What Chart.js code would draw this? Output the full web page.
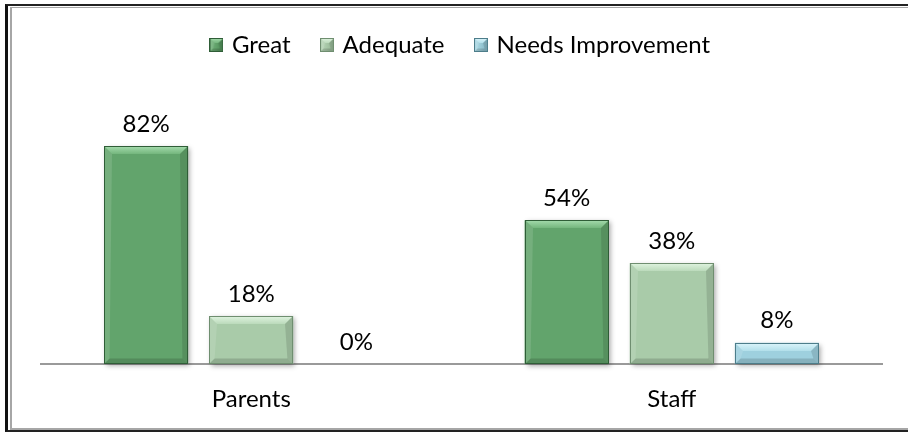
<!DOCTYPE html>
<html>
<head>
<meta charset="utf-8">
<script src="https://cdn.jsdelivr.net/npm/chart.js@4.4.1/dist/chart.umd.min.js"></script>
<style>
  html, body { margin: 0; padding: 0; background: #fff; width: 908px; height: 433px; overflow: hidden; }
  #molduraExterna { position: absolute; left: 5px; top: 4px; width: 940px; height: 424px;
    border-left: 3px solid #111; border-top: 2px solid #222; border-bottom: 2px solid #222; }
  #molduraInterna { position: absolute; left: 10px; top: 7px; width: 940px; height: 420px;
    border-left: 2px solid #a6a6a6; border-top: 1px solid #a6a6a6; border-bottom: 2px solid #a6a6a6; }
  #grafico { position: absolute; left: 0; top: 0; }
</style>
</head>
<body>
<div id="molduraExterna"></div>
<div id="molduraInterna"></div>
<canvas id="grafico" width="908" height="433"></canvas>
<script>
// Dados do gráfico
const categorias = ['Parents', 'Staff'];
const nomesSeries = ['Great', 'Adequate', 'Needs Improvement'];
const valoresGreat = [82, 54];
const valoresAdequate = [18, 38];
const valoresNeeds = [0, 8];

// Paleta de cada série: corpo, lado claro, lado escuro, bisel superior, contorno
const paletas = [
  { corpo: '#62a46c', claro: '#74b67d', escuro: '#4c8a55', bisel: '#a6dcae', borda: '#2f5d37' },
  { corpo: '#a9cba9', claro: '#bbdabb', escuro: '#91b391', bisel: '#e0f4e0', borda: '#6f8e70' },
  { corpo: '#9ed0de', claro: '#b2dfea', escuro: '#7fb2c0', bisel: '#dcf5fb', borda: '#4d7d8a' }
];

const fonte = { family: 'Lato, "Open Sans", sans-serif', size: 24 };

// Preenchimento horizontal: mais claro à esquerda, mais escuro à direita
function preenchimento(p) {
  return function (ctx) {
    const el = ctx.element;
    if (!el || el.width === undefined || isNaN(el.x)) return p.corpo;
    const c = ctx.chart.ctx;
    const esq = el.x - el.width / 2;
    const g = c.createLinearGradient(esq, 0, esq + el.width, 0);
    g.addColorStop(0, p.claro);
    g.addColorStop(0.45, p.corpo);
    g.addColorStop(1, p.escuro);
    return g;
  };
}

// Desenha os biséis por cima de uma barra (retângulo esq, topo, dir, base)
function desenharBisel(c, p, esq, topo, dir, base, b) {
  const h = base - topo;
  if (h <= 1) return;
  const bt = Math.min(b, h / 2);
  const bl = Math.min(b * 0.7, h / 2);
  // topo claro
  c.beginPath();
  c.moveTo(esq, topo); c.lineTo(dir, topo);
  c.lineTo(dir - bt, topo + bt); c.lineTo(esq + bt, topo + bt);
  c.closePath();
  const gt = c.createLinearGradient(0, topo, 0, topo + bt);
  gt.addColorStop(0, p.bisel);
  gt.addColorStop(1, p.claro);
  c.fillStyle = gt; c.fill();
  // lado esquerdo
  c.beginPath();
  c.moveTo(esq, topo); c.lineTo(esq + bt, topo + bt);
  c.lineTo(esq + bl, base - bl); c.lineTo(esq, base);
  c.closePath();
  c.fillStyle = 'rgba(255,255,255,0.12)'; c.fill();
  // lado direito
  c.beginPath();
  c.moveTo(dir, topo); c.lineTo(dir - bt, topo + bt);
  c.lineTo(dir - bl, base - bl); c.lineTo(dir, base);
  c.closePath();
  c.fillStyle = 'rgba(0,0,0,0.12)'; c.fill();
  // base
  c.beginPath();
  c.moveTo(esq, base); c.lineTo(esq + bl, base - bl);
  c.lineTo(dir - bl, base - bl); c.lineTo(dir, base);
  c.closePath();
  c.fillStyle = 'rgba(0,0,0,0.15)'; c.fill();
  // contorno
  c.strokeStyle = p.borda; c.lineWidth = 1;
  c.strokeRect(esq + 0.5, topo + 0.5, dir - esq - 1, base - topo - 1);
}

// Marcadores da legenda com o mesmo bisel das barras
function criarMarcador(p) {
  const cv = document.createElement('canvas');
  cv.width = 14; cv.height = 14;
  const c = cv.getContext('2d');
  const g = c.createLinearGradient(0, 0, 14, 0);
  g.addColorStop(0, p.claro); g.addColorStop(1, p.escuro);
  c.fillStyle = g; c.fillRect(0, 0, 14, 14);
  desenharBisel(c, p, 0, 0, 14, 14, 5);
  return cv;
}
const marcadores = paletas.map(criarMarcador);

function serie(nome, valores, p) {
  return {
    label: nome,
    data: valores,
    backgroundColor: preenchimento(p),
    borderWidth: 0,
    categoryPercentage: 0.75,
    barPercentage: 0.8,
    clip: false
  };
}

// Sombra suave sob as barras
const sombraBarras = {
  id: 'sombraBarras',
  beforeDatasetDraw(chart) {
    const c = chart.ctx;
    c.save();
    c.shadowColor = 'rgba(0,0,0,0.35)';
    c.shadowBlur = 5;
    c.shadowOffsetX = 2;
    c.shadowOffsetY = 2;
  },
  afterDatasetDraw(chart) {
    chart.ctx.restore();
  }
};

// Biséis e rótulos de valor
const biselERotulos = {
  id: 'biselERotulos',
  afterDatasetsDraw(chart) {
    const c = chart.ctx;
    chart.data.datasets.forEach((ds, i) => {
      const meta = chart.getDatasetMeta(i);
      meta.data.forEach((el, j) => {
        const w = el.width;
        const esq = Math.round(el.x - w / 2);
        const dir = Math.round(el.x + w / 2);
        c.save();
        desenharBisel(c, paletas[i], esq, Math.round(el.y), dir, Math.round(el.base), 8);
        c.fillStyle = '#000';
        c.font = `${fonte.size}px ${fonte.family}`;
        c.textAlign = 'center';
        c.textBaseline = 'middle';
        c.fillText(ds.data[j] + '%', el.x, el.y - 22);
        c.restore();
      });
    });
  }
};

// Altura fixa para a faixa da legenda
const alturaLegenda = {
  id: 'alturaLegenda',
  beforeInit(chart) {
    const fitOriginal = chart.legend.fit;
    chart.legend.fit = function () {
      fitOriginal.call(this);
      this.height = 98;
    };
  }
};

new Chart(document.getElementById('grafico'), {
  type: 'bar',
  data: {
    labels: categorias,
    datasets: [
      serie(nomesSeries[0], valoresGreat, paletas[0]),
      serie(nomesSeries[1], valoresAdequate, paletas[1]),
      serie(nomesSeries[2], valoresNeeds, paletas[2])
    ]
  },
  options: {
    responsive: false,
    devicePixelRatio: 1,
    animation: false,
    layout: { padding: { left: 41, right: 26, top: 0, bottom: 0 } },
    plugins: {
      tooltip: { enabled: false },
      legend: {
        position: 'top',
        labels: {
          font: fonte,
          color: '#000',
          usePointStyle: true,
          pointStyleWidth: 7,
          padding: 33,
          generateLabels(chart) {
            const itens = Chart.defaults.plugins.legend.labels.generateLabels(chart);
            itens.forEach((it, i) => { it.pointStyle = marcadores[i]; });
            return itens;
          }
        }
      }
    },
    scales: {
      x: {
        grid: { display: false },
        border: { display: true, color: '#9a9a9a', width: 2 },
        ticks: { font: fonte, color: '#000', padding: 13 },
        afterFit(scale) { scale.height = 69; }
      },
      y: { display: false, min: 0, max: 100 }
    }
  },
  plugins: [sombraBarras, biselERotulos, alturaLegenda]
});
</script>
</body>
</html>
